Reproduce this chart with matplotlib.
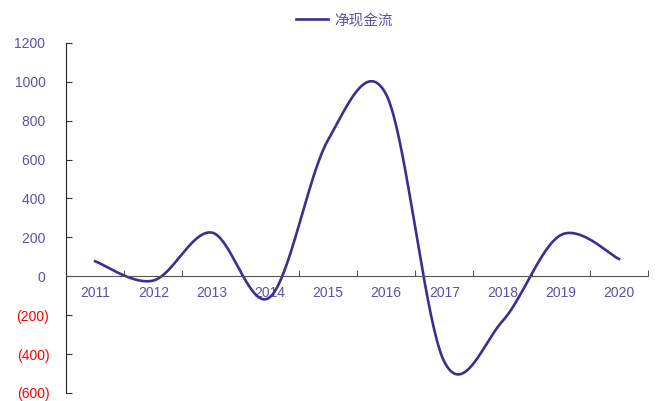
import numpy as np
import matplotlib.pyplot as plt

plt.rcParams['font.family'] = ['Liberation Sans', 'DejaVu Sans']

years = ['2011', '2012', '2013', '2014', '2015', '2016', '2017', '2018', '2019', '2020']
net_cash = [77, -22, 225, -108, 700, 935, -440, -230, 212, 89]
y_ticks = [-600, -400, -200, 0, 200, 400, 600, 800, 1000, 1200]

line_color = '#3b2f90'
label_color = '#5a51a8'


def smooth(xs, ys, n=40):
    # Excel-style smoothed line: Catmull-Rom through the data points
    xs = np.asarray(xs, float)
    ys = np.asarray(ys, float)
    px = np.concatenate([[xs[0]], xs, [xs[-1]]])
    py = np.concatenate([[ys[0]], ys, [ys[-1]]])
    out_x, out_y = [], []
    t = np.linspace(0, 1, n)
    for i in range(1, len(px) - 2):
        p0, p1, p2, p3 = py[i - 1], py[i], py[i + 1], py[i + 2]
        q0, q1, q2, q3 = px[i - 1], px[i], px[i + 1], px[i + 2]
        b1y, b2y = p1 + (p2 - p0) / 6, p2 - (p3 - p1) / 6
        b1x, b2x = q1 + (q2 - q0) / 6, q2 - (q3 - q1) / 6
        out_y.append((1 - t) ** 3 * p1 + 3 * (1 - t) ** 2 * t * b1y + 3 * (1 - t) * t ** 2 * b2y + t ** 3 * p2)
        out_x.append((1 - t) ** 3 * q1 + 3 * (1 - t) ** 2 * t * b1x + 3 * (1 - t) * t ** 2 * b2x + t ** 3 * q2)
    return np.concatenate(out_x), np.concatenate(out_y)


fig = plt.figure(figsize=(6.62, 4.01), dpi=100)
ax = fig.add_axes([0.0997, 0.02, 0.8793, 0.873])

x = np.arange(len(years))
sx, sy = smooth(x, net_cash)
ax.plot(sx, sy, color=line_color, lw=1.9, label='净现金流')

ax.set_xlim(-0.5, len(years) - 0.5)
ax.set_ylim(-600, 1200)

ax.spines['top'].set_visible(False)
ax.spines['right'].set_visible(False)
ax.spines['bottom'].set_position(('data', 0))
ax.spines['bottom'].set_color('#555555')
ax.spines['left'].set_color('#222222')

ax.set_xticks(x)
ax.set_xticklabels(years, color=label_color, fontsize=10)
ax.set_xticks(np.arange(len(years)) + 0.5, minor=True)
ax.tick_params(axis='x', which='major', length=0, pad=7)
ax.tick_params(axis='x', which='minor', length=4, direction='in', color='#333333')

ax.set_yticks(y_ticks)
ylabels = [f'({abs(v)})' if v < 0 else f'{v} ' for v in y_ticks]
ax.set_yticklabels(ylabels, fontsize=10)
for lab, v in zip(ax.get_yticklabels(), y_ticks):
    lab.set_color('#ff0000' if v < 0 else label_color)
ax.tick_params(axis='y', length=4, direction='in', pad=12, color='#333333')

leg = fig.legend(loc='upper center', bbox_to_anchor=(0.52, 1.0), frameon=False,
                 prop={'family': ['Noto Sans CJK SC', 'DejaVu Sans'], 'size': 10.5},
                 handlelength=2.2, handletextpad=0.4)
for t in leg.get_texts():
    t.set_color(label_color)

fig.savefig('out.png', dpi=100)
